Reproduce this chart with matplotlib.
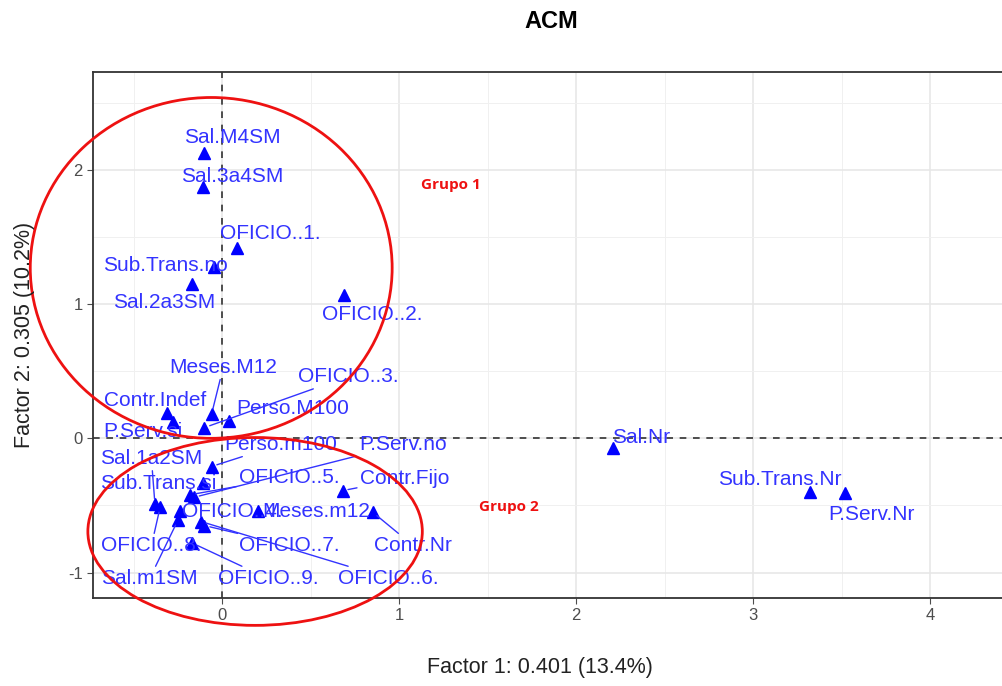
import matplotlib
matplotlib.use("Agg")
import matplotlib.pyplot as plt
from matplotlib.patches import Ellipse

plt.rcParams['font.family'] = ['Liberation Sans', 'DejaVu Sans']
plt.rcParams['axes.unicode_minus'] = False

# category coordinates (Factor 1, Factor 2)
cats = ['Sal.M4SM', 'Sal.3a4SM', 'Sal.2a3SM', 'Sal.1a2SM', 'Sal.m1SM', 'Sal.Nr',
        'Sub.Trans.no', 'Sub.Trans.si', 'Sub.Trans.Nr',
        'P.Serv.si', 'P.Serv.no', 'P.Serv.Nr',
        'OFICIO..1.', 'OFICIO..2.', 'OFICIO..3.', 'OFICIO..4.', 'OFICIO..5.',
        'OFICIO..6.', 'OFICIO..7.', 'OFICIO..8.', 'OFICIO..9.',
        'Meses.M12', 'Meses.m12', 'Perso.M100', 'Perso.m100',
        'Contr.Indef', 'Contr.Fijo', 'Contr.Nr']
dim1 = [-0.10, -0.11, -0.17, -0.38, -0.25, 2.21,
        -0.045, -0.11, 3.32,
        -0.28, -0.16, 3.52,
        0.085, 0.69, -0.10, -0.24, -0.18,
        -0.12, -0.10, -0.35, -0.17,
        -0.06, 0.20, 0.04, -0.06,
        -0.31, 0.68, 0.85]
dim2 = [2.13, 1.87, 1.15, -0.49, -0.61, -0.07,
        1.28, -0.33, -0.40,
        0.12, -0.44, -0.41,
        1.42, 1.07, 0.08, -0.54, -0.42,
        -0.62, -0.65, -0.51, -0.78,
        0.18, -0.54, 0.13, -0.21,
        0.19, -0.39, -0.55]

# repelled label positions (layout)
lab_x = [0.056, 0.056, -0.33, -0.40, -0.41, 2.37,
         -0.32, -0.36, 3.15,
         -0.45, 1.02, 3.67,
         0.27, 0.85, 0.71, 0.056, 0.38,
         0.94, 0.38, -0.40, 0.26,
         0.006, 0.53, 0.40, 0.33,
         -0.38, 1.03, 1.08]
lab_y = [2.24, 1.95, 1.01, -0.15, -1.045, 0.007,
         1.29, -0.34, -0.31,
         0.05, -0.045, -0.57,
         1.53, 0.92, 0.46, -0.545, -0.29,
         -1.045, -0.80, -0.80, -1.045,
         0.53, -0.545, 0.22, -0.045,
         0.28, -0.30, -0.80]
with_segment = ['Sal.1a2SM', 'Sal.m1SM', 'P.Serv.no', 'OFICIO..3.', 'OFICIO..5.',
                'OFICIO..6.', 'OFICIO..7.', 'OFICIO..8.', 'OFICIO..9.',
                'Meses.M12', 'Perso.m100', 'Contr.Fijo', 'Contr.Nr']

fig = plt.figure(figsize=(10.03, 6.86), dpi=100)
ax = fig.add_axes([93/1003, 1 - 598/686, (222 + 4.6*177 - 93)/1003, (598 - 72)/686])

ax.set_xlim(-0.73, 4.6)
ax.set_ylim(-1.19, 2.73)
ax.set_xticks([0, 1, 2, 3, 4])
ax.set_yticks([-1, 0, 1, 2])
ax.set_xticks([-0.5, 0.5, 1.5, 2.5, 3.5, 4.5], minor=True)
ax.set_yticks([-0.5, 0.5, 1.5, 2.5], minor=True)
ax.grid(True, which='major', color='#E6E6E6', lw=1.1)
ax.grid(True, which='minor', color='#F0F0F0', lw=0.7)
ax.set_axisbelow(True)
for s in ax.spines.values():
    s.set_color('#333333')
    s.set_linewidth(1.3)
ax.tick_params(which='major', colors='#4D4D4D', labelsize=12, length=4)
ax.tick_params(which='minor', length=0)

ax.axhline(0, color='#333333', ls=(0, (4, 4)), lw=1.2)
ax.axvline(0, color='#333333', ls=(0, (4, 4)), lw=1.2)

ax.plot(dim1, dim2, ls='none', marker='^', ms=8, color='#0000FF', zorder=3)

for i, c in enumerate(cats):
    if c in with_segment:
        ax.annotate(c, xy=(dim1[i], dim2[i]), xytext=(lab_x[i], lab_y[i]),
                    ha='center', va='center', fontsize=15, color='#3333FF',
                    arrowprops=dict(arrowstyle='-', color='#3333FF', lw=1,
                                    shrinkA=0, shrinkB=4), zorder=4)
    else:
        ax.text(lab_x[i], lab_y[i], c, ha='center', va='center',
                fontsize=15, color='#3333FF', zorder=4)

ax.add_patch(Ellipse((-0.062, 1.27), 2.045, 2.54, fill=False, ec='#EE1111',
                     lw=2, clip_on=False, zorder=5))
ax.add_patch(Ellipse((0.186, -0.694), 1.89, 1.40, fill=False, ec='#EE1111',
                     lw=2, clip_on=False, zorder=5))
ax.text(1.29, 1.89, 'Grupo 1', color='#EE1111', fontsize=11, fontweight='bold',
        ha='center', va='center', family=['Open Sans', 'DejaVu Sans'])
ax.text(1.62, -0.515, 'Grupo 2', color='#EE1111', fontsize=11, fontweight='bold',
        ha='center', va='center', family=['Open Sans', 'DejaVu Sans'])

fig.text(551/1003, 1 - 22/686, 'ACM', fontsize=17, fontweight='bold',
         ha='center', va='center')
fig.text(540/1003, 1 - 668/686, 'Factor 1: 0.401 (13.4%)', fontsize=15.5,
         color='#222222', ha='center', va='center')
fig.text(25/1003, 1 - 335/686, 'Factor 2: 0.305 (10.2%)', fontsize=15.5,
         color='#222222', ha='center', va='center', rotation=90)

fig.savefig('out.png', dpi=100)
